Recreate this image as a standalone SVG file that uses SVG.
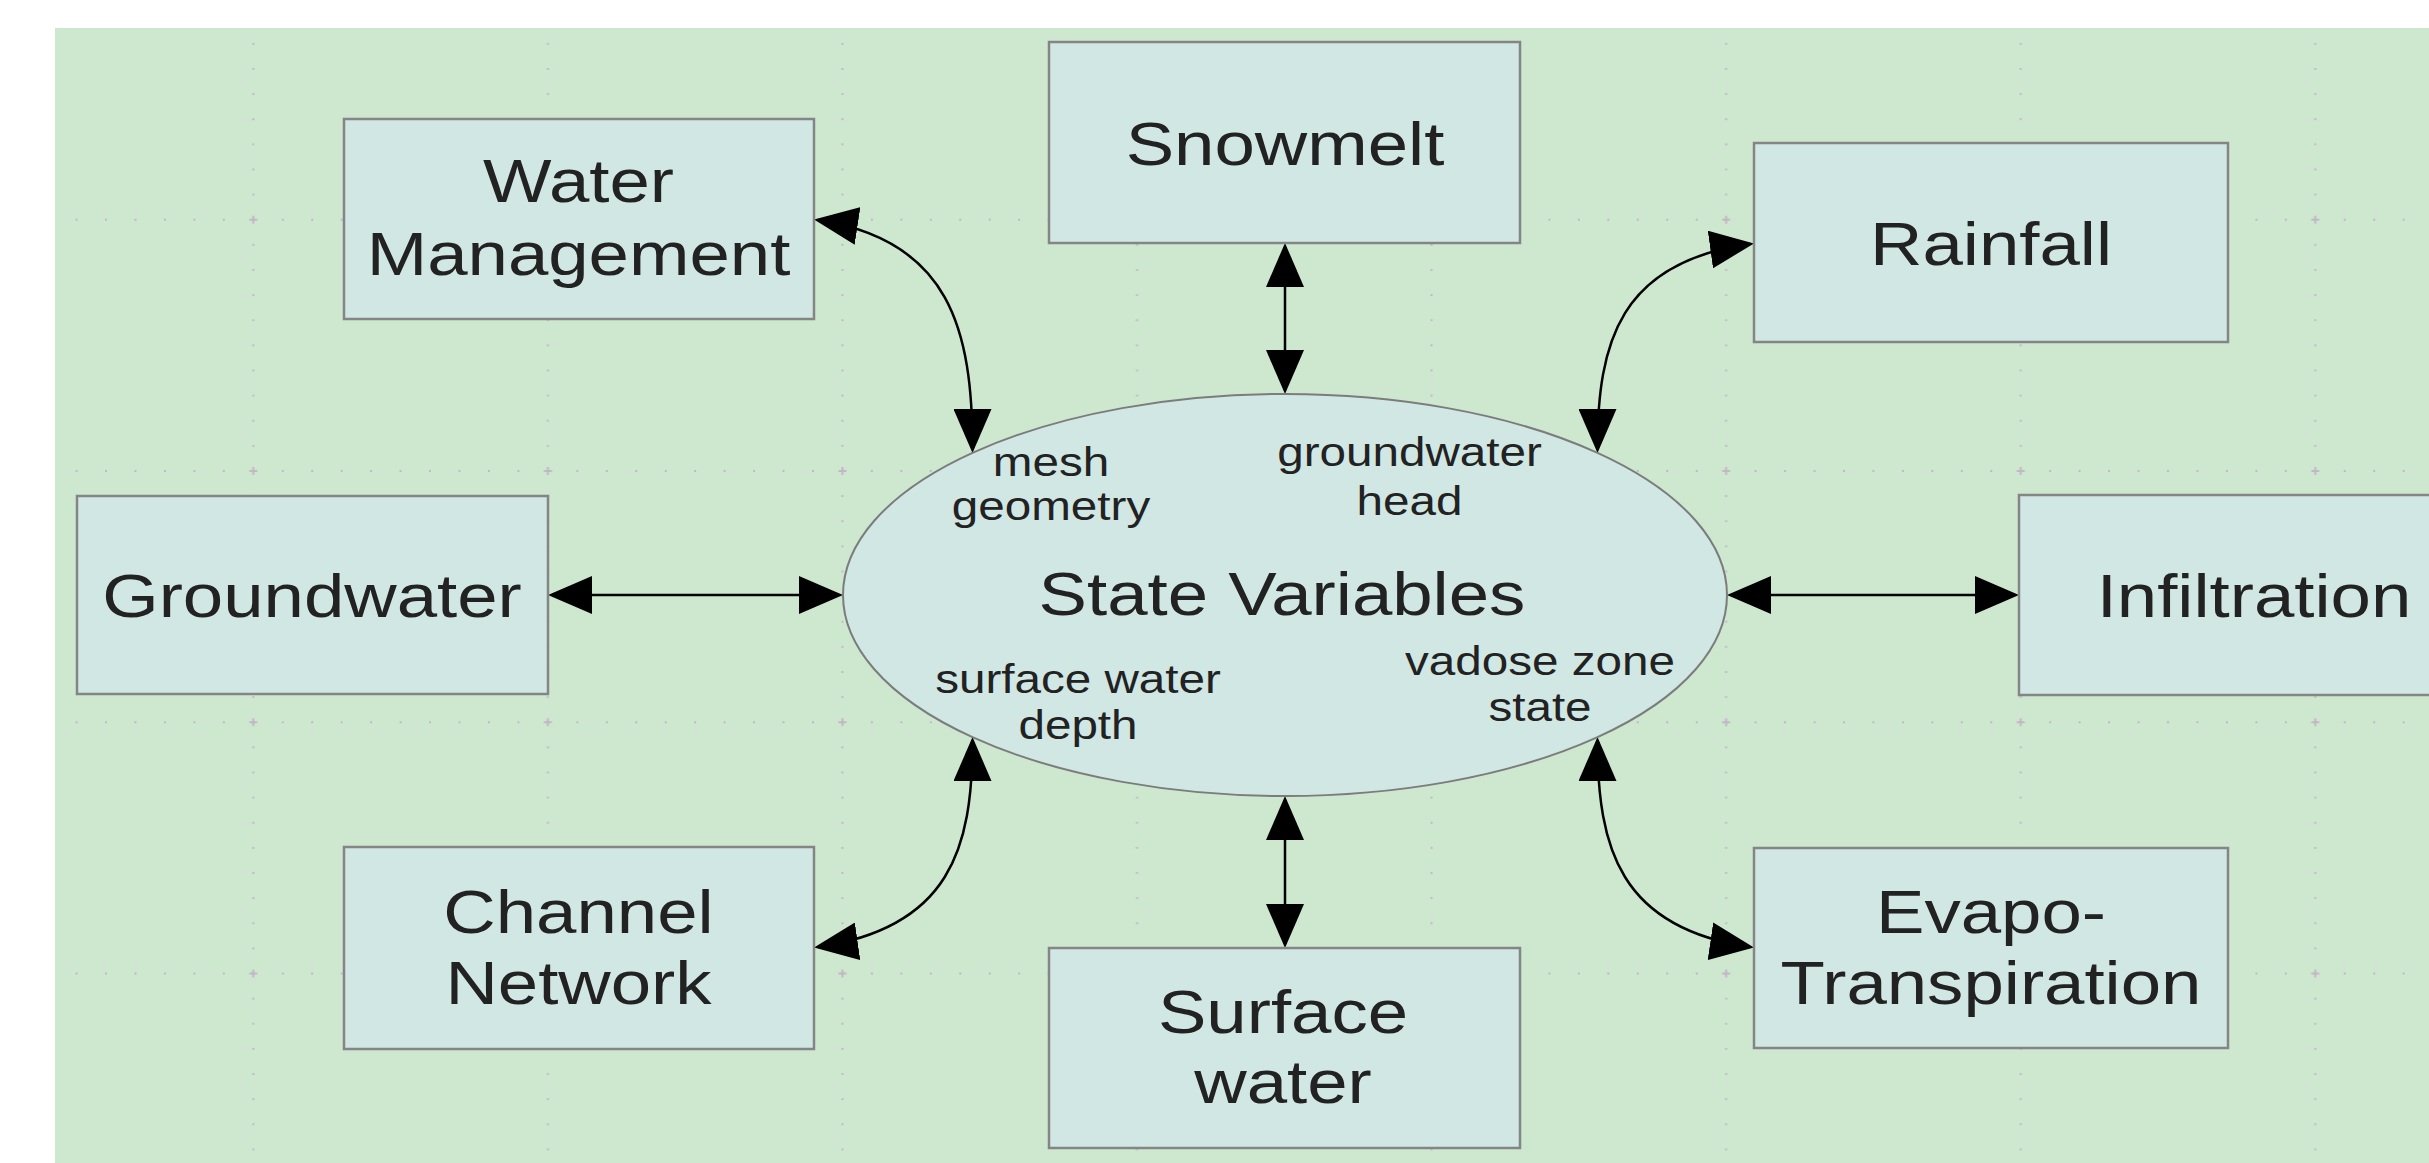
<svg xmlns="http://www.w3.org/2000/svg" width="2429" height="1163" viewBox="0 0 2429 1163">
<style>
.bg{fill:#cde8cf}
.box{fill:#d0e7e4;stroke:#858585;stroke-width:2.5}
.ell{fill:#d0e7e4;stroke:#7c7c7c;stroke-width:2}
.t{font-family:"Liberation Sans",Arial,sans-serif;fill:#222;text-anchor:middle}
.big{font-size:61px}
.small{font-size:40px}
.con{fill:none;stroke:#000;stroke-width:2.5}
</style>
<defs>
<pattern id="dotsH" patternUnits="userSpaceOnUse" x="238.57" y="94.07" width="29.457" height="251.27">
<rect x="13.73" y="124.63" width="2" height="2" fill="#c2b7c5"/>
</pattern>
<pattern id="dotsV" patternUnits="userSpaceOnUse" x="106.02" y="207.14" width="294.57" height="25.127">
<rect x="146.28" y="11.56" width="2" height="2" fill="#c2b7c5"/>
</pattern>
<pattern id="cross" patternUnits="userSpaceOnUse" x="106.02" y="94.07" width="294.57" height="251.27">
<path d="M143.28 125.63h8M147.28 121.63v8" stroke="#c2b7c5" stroke-width="2"/>
</pattern>
<marker id="ah" markerUnits="userSpaceOnUse" viewBox="0 0 44 38" refX="40" refY="19" markerWidth="44" markerHeight="38" orient="auto-start-reverse">
<path d="M0 0L44 19L0 38z" fill="#000"/>
</marker>
</defs>
<rect width="2429" height="1163" fill="#fff"/>
<rect class="bg" x="55" y="28" width="2374" height="1135"/>
<g id="grid">
<rect x="55" y="28" width="2374" height="1135" fill="url(#dotsH)"/>
<rect x="55" y="28" width="2374" height="1135" fill="url(#dotsV)"/>
<rect x="55" y="28" width="2374" height="1135" fill="url(#cross)"/>
</g>
<g id="connectors">
<path class="con" d="M1285 247V390" marker-start="url(#ah)" marker-end="url(#ah)"/>
<path class="con" d="M1285 800V944" marker-start="url(#ah)" marker-end="url(#ah)"/>
<path class="con" d="M552 595H839" marker-start="url(#ah)" marker-end="url(#ah)"/>
<path class="con" d="M1731 595H2015" marker-start="url(#ah)" marker-end="url(#ah)"/>
<path class="con" d="M818 220C950 240 972.5 330 972.5 449" marker-start="url(#ah)" marker-end="url(#ah)"/>
<path class="con" d="M1750 244C1620 262 1597.5 342 1597.5 449" marker-start="url(#ah)" marker-end="url(#ah)"/>
<path class="con" d="M818 947C950 928 972.5 848 972.5 741" marker-start="url(#ah)" marker-end="url(#ah)"/>
<path class="con" d="M1750 947C1620 928 1597.5 848 1597.5 741" marker-start="url(#ah)" marker-end="url(#ah)"/>
</g>
<g id="state-variables">
<ellipse class="ell" cx="1285" cy="595" rx="442" ry="201"/>
<text class="t big" transform="matrix(1.19 0 0 1 1282 0)"><tspan x="0" y="615">State Variables</tspan></text>
<text class="t small" transform="matrix(1.19 0 0 1 1051 0)"><tspan x="0" y="476">mesh</tspan><tspan x="0" y="520">geometry</tspan></text>
<text class="t small" transform="matrix(1.19 0 0 1 1409.5 0)"><tspan x="0" y="466">groundwater</tspan><tspan x="0" y="515">head</tspan></text>
<text class="t small" transform="matrix(1.19 0 0 1 1078 0)"><tspan x="0" y="693">surface water</tspan><tspan x="0" y="739">depth</tspan></text>
<text class="t small" transform="matrix(1.19 0 0 1 1540 0)"><tspan x="0" y="675">vadose zone</tspan><tspan x="0" y="721">state</tspan></text>
</g>
<g id="water-management">
<rect class="box" x="344" y="119" width="470" height="200"/>
<text class="t big" transform="matrix(1.19 0 0 1 578.5 0)"><tspan x="0" y="202">Water</tspan><tspan x="0" y="275">Management</tspan></text>
</g>
<g id="snowmelt">
<rect class="box" x="1049" y="42" width="471" height="201"/>
<text class="t big" transform="matrix(1.19 0 0 1 1285 0)"><tspan x="0" y="165">Snowmelt</tspan></text>
</g>
<g id="rainfall">
<rect class="box" x="1754" y="143" width="474" height="199"/>
<text class="t big" transform="matrix(1.19 0 0 1 1991 0)"><tspan x="0" y="265">Rainfall</tspan></text>
</g>
<g id="groundwater">
<rect class="box" x="77" y="496" width="471" height="198"/>
<text class="t big" transform="matrix(1.19 0 0 1 312 0)"><tspan x="0" y="617">Groundwater</tspan></text>
</g>
<g id="infiltration">
<rect class="box" x="2019" y="495" width="471" height="200"/>
<text class="t big" transform="matrix(1.19 0 0 1 2254 0)"><tspan x="0" y="617">Infiltration</tspan></text>
</g>
<g id="channel-network">
<rect class="box" x="344" y="847" width="470" height="202"/>
<text class="t big" transform="matrix(1.19 0 0 1 578.5 0)"><tspan x="0" y="933">Channel</tspan><tspan x="0" y="1004">Network</tspan></text>
</g>
<g id="surface-water">
<rect class="box" x="1049" y="948" width="471" height="200"/>
<text class="t big" transform="matrix(1.19 0 0 1 1283 0)"><tspan x="0" y="1033">Surface</tspan><tspan x="0" y="1103">water</tspan></text>
</g>
<g id="evapotranspiration">
<rect class="box" x="1754" y="848" width="474" height="200"/>
<text class="t big" transform="matrix(1.19 0 0 1 1991 0)"><tspan x="0" y="933">Evapo-</tspan><tspan x="0" y="1004">Transpiration</tspan></text>
</g>
</svg>
